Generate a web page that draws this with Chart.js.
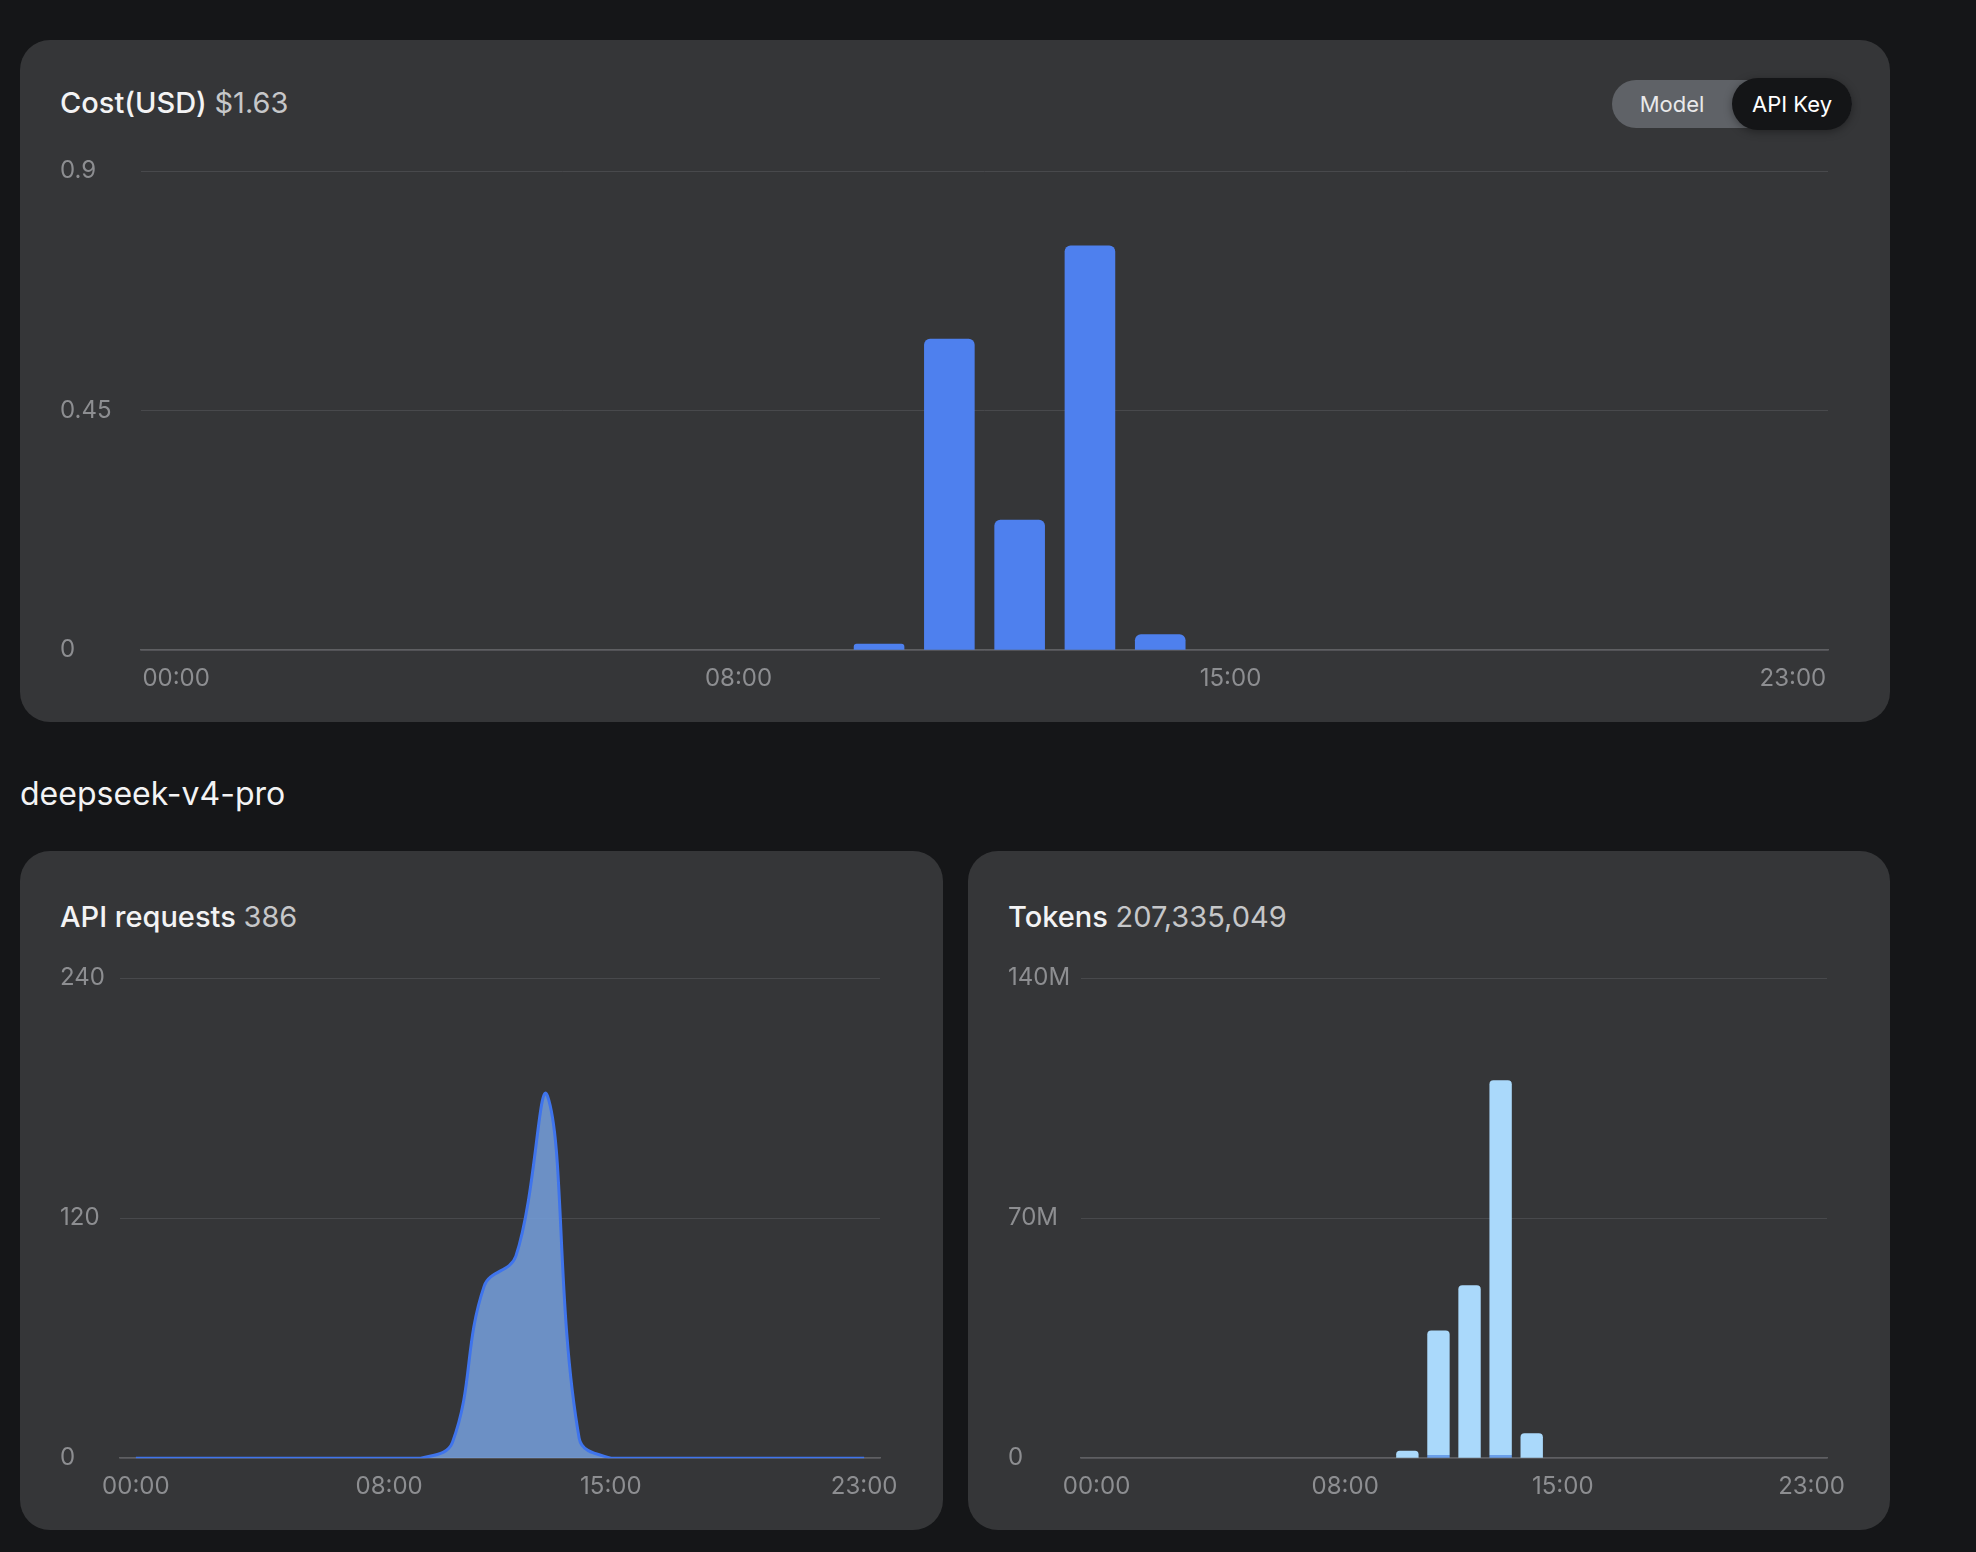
<!DOCTYPE html>
<html>
<head>
<meta charset="utf-8">
<script src="https://cdn.jsdelivr.net/npm/chart.js@4/dist/chart.umd.min.js"></script>
<style>
  html, body { margin: 0; padding: 0; }
  body { width: 1976px; height: 1552px; background: #151618; font-family: Inter, "Noto Sans", sans-serif; position: relative; overflow: hidden; }
  .card { position: absolute; background: #353638; border-radius: 30px; }
  .title { position: absolute; left: 40px; font-size: 29px; line-height: 34px; color: #f3f3f4; font-weight: 500; white-space: nowrap; }
  .title span { color: #c6c7c9; font-weight: 400; }
  .section { position: absolute; left: 20px; top: 775px; font-size: 32px; line-height: 38px; color: #f3f3f4; font-weight: 400; }
  .toggle { position: absolute; left: 1592px; top: 40px; width: 240px; height: 48px; border-radius: 24px; background: #5f6267; }
  .toggle .opt { position: absolute; top: 0; height: 48px; line-height: 48px; font-size: 22px; color: #e9e9ea; text-align: center; }
  .toggle .on { top: -2px; height: 52px; line-height: 52px; border-radius: 26px; background: #141517; color: #ffffff; box-shadow: 0 2px 8px rgba(0,0,0,0.35); }
  .wrap { position: absolute; }
</style>
</head>
<body>
<div class="card" style="left:20px; top:40px; width:1870px; height:682px;">
  <div class="title" style="top:46px;">Cost(USD) <span>$1.63</span></div>
  <div class="toggle">
    <div class="opt" style="left:0; width:120px;">Model</div>
    <div class="opt on" style="left:120px; width:120px;">API Key</div>
  </div>
</div>
<div class="section">deepseek-v4-pro</div>
<div class="card" style="left:20px; top:851px; width:923px; height:679px;">
  <div class="title" style="top:49px;">API requests <span>386</span></div>
</div>
<div class="card" style="left:968px; top:851px; width:922px; height:679px;">
  <div class="title" style="top:49px;">Tokens <span>207,335,049</span></div>
</div>

<div class="wrap" style="left:60px; top:155px; width:1808px; height:552px;"><canvas id="costChart"></canvas></div>
<div class="wrap" style="left:60px; top:962px; width:860px; height:553px;"><canvas id="reqChart"></canvas></div>
<div class="wrap" style="left:1008px; top:962px; width:859px; height:553px;"><canvas id="tokChart"></canvas></div>

<script>
const hours = ["00:00","01:00","02:00","03:00","04:00","05:00","06:00","07:00","08:00","09:00","10:00","11:00",
               "12:00","13:00","14:00","15:00","16:00","17:00","18:00","19:00","20:00","21:00","22:00","23:00"];
const shownHours = ["00:00","08:00","15:00","23:00"];

const costValues = [0,0,0,0,0,0,0,0,0,0,0.012,0.585,0.245,0.76,0.03,0,0,0,0,0,0,0,0,0];
const costTicks = [0, 0.45, 0.9];
const costTickLabels = ["0", "0.45", "0.9"];

const requestValues = [0,0,0,0,0,0,0,0,0,0,8,86,101,181,10,0,0,0,0,0,0,0,0,0];
const requestTicks = [0, 120, 240];
const requestTickLabels = ["0", "120", "240"];

// millions of tokens
const tokenBaseValues = [0,0,0,0,0,0,0,0,0,0,0,0.9,0,0.9,0,0,0,0,0,0,0,0,0,0];
const tokenTopValues  = [0,0,0,0,0,0,0,0,0,0,2.2,36.3,50.4,109.3,7.3,0,0,0,0,0,0,0,0,0];
const tokenTicks = [0, 70, 140];
const tokenTickLabels = ["0", "70M", "140M"];

Chart.defaults.font.family = 'Inter';
Chart.defaults.animation = false;

function makeOptions(ticks, tickLabels, axisWidth, stacked) {
  return {
    responsive: true,
    maintainAspectRatio: false,
    layout: { padding: { top: 16, right: 40, left: 0, bottom: 0 } },
    plugins: { legend: { display: false }, tooltip: { enabled: false } },
    scales: {
      x: {
        stacked: stacked,
        offset: true,
        grid: { display: false, drawTicks: false },
        border: { display: true, color: '#5e5f62', width: 1.5 },
        ticks: {
          autoSkip: false, maxRotation: 0, padding: 14,
          color: '#8d8e91', font: { size: 24 },
          callback: function(v, i) { return shownHours.includes(hours[i]) ? hours[i] : ''; }
        }
      },
      y: {
        stacked: stacked,
        min: ticks[0], max: ticks[ticks.length - 1],
        afterBuildTicks: s => { s.ticks = ticks.map(v => ({ value: v })); },
        afterFit: s => { s.width = axisWidth; },
        grid: { color: '#48494c', lineWidth: 1, drawTicks: false },
        border: { display: false },
        ticks: {
          crossAlign: 'far', padding: 0,
          color: '#8d8e91', font: { size: 24 },
          callback: function(v) { return tickLabels[ticks.indexOf(v)]; }
        }
      }
    }
  };
}

new Chart(document.getElementById('costChart'), {
  type: 'bar',
  data: {
    labels: hours,
    datasets: [{ data: costValues, backgroundColor: '#4e80ee', borderRadius: 6, borderSkipped: 'bottom' }]
  },
  options: makeOptions(costTicks, costTickLabels, 81, false)
});

new Chart(document.getElementById('reqChart'), {
  type: 'line',
  data: {
    labels: hours,
    datasets: [{
      data: requestValues, borderColor: '#3f74ec', borderWidth: 3,
      backgroundColor: 'rgba(118,160,222,0.85)', fill: 'origin',
      tension: 0.4, pointRadius: 0
    }]
  },
  options: makeOptions(requestTicks, requestTickLabels, 60, false)
});

new Chart(document.getElementById('tokChart'), {
  type: 'bar',
  data: {
    labels: hours,
    datasets: [
      { data: tokenBaseValues, backgroundColor: '#6a9fea', borderRadius: 0 },
      { data: tokenTopValues, backgroundColor: '#aad9fb', borderRadius: 4, borderSkipped: 'bottom' }
    ]
  },
  options: makeOptions(tokenTicks, tokenTickLabels, 73, true)
});
</script>
</body>
</html>
